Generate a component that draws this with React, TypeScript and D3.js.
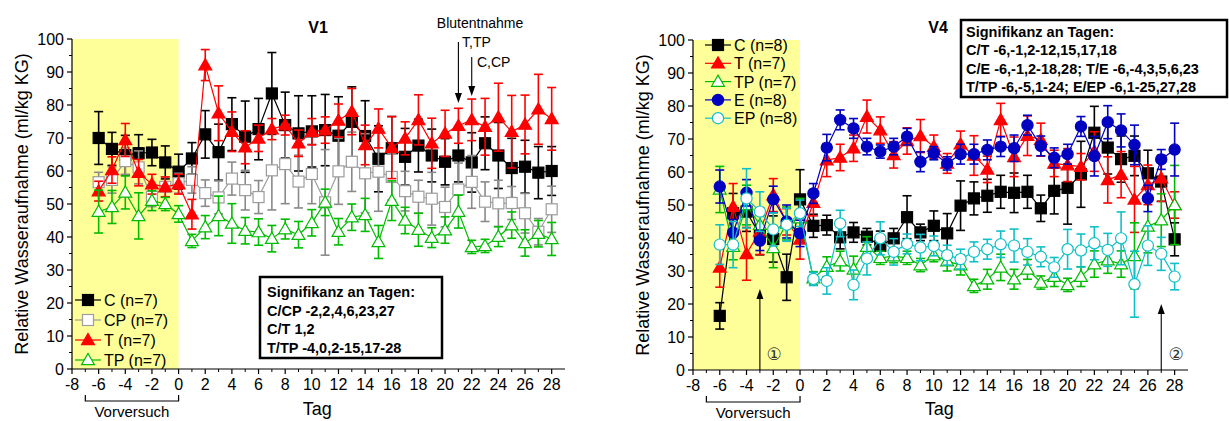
import React from 'react';
import * as d3 from 'd3';

// ---------- shared categories ----------
const days = [-6, -5, -4, -3, -2, -1, 0, 1, 2, 3, 4, 5, 6, 7, 8, 9, 10, 11, 12, 13, 14, 15, 16, 17, 18, 19, 20, 21, 22, 23, 24, 25, 26, 27, 28];
const xTickLabels = [-8, -6, -4, -2, 0, 2, 4, 6, 8, 10, 12, 14, 16, 18, 20, 22, 24, 26, 28];
const yTickLabels = [0, 10, 20, 30, 40, 50, 60, 70, 80, 90, 100];

// ---------- V1 ----------
const v1C = [70, 66.7, 64.8, 65.4, 65.6, 62.6, 59.8, 63.8, 71.1, 65.7, 74.2, 70.4, 72.7, 83.5, 73.9, 71.4, 72, 72.4, 70.7, 74.9, 70.6, 63.7, 66.9, 64.3, 67.7, 64.7, 62.8, 64.7, 62.6, 68.4, 64.7, 60.9, 61.3, 59.5, 60];
const v1CErr = [8, 5, 6, 5.6, 4, 5, 5.3, 4.8, 7.2, 8.5, 8, 10.8, 9.3, 12.4, 10, 11.4, 10.8, 10.8, 11.8, 10.6, 10.7, 10, 9.6, 8.6, 8, 8, 7, 8, 9, 8, 10, 9, 8, 7.9, 7.4];
const v1CP = [56.6, 57.3, 63, 61.1, 52.2, 55.2, 56.3, 57.3, 53.3, 52, 57.7, 54.2, 52.1, 60.2, 62.1, 56.8, 59.1, 50.5, 59.9, 62.8, 59.3, 59.8, 58.2, 53.9, 52.2, 51.6, 49.1, 54.4, 56.7, 50.7, 50.2, 50.3, 47.2, 41.6, 48.4];
const v1CPErr = [3, 4, 4, 5, 3, 3, 3, 4, 4, 5, 5, 6, 5, 12, 12, 8, 9, 16, 10, 9, 12, 12, 7, 6, 5, 8, 6, 8, 8, 6, 7, 5, 6, 4, 7];
const v1T = [53.9, 60.3, 69.4, 59.5, 56, 55.2, 56, 46.9, 92.1, 77.5, 71.9, 67.2, 69.9, 72.7, 73.9, 68.4, 71.9, 72.4, 75.3, 78, 67.9, 72.9, 67.1, 69.9, 75.5, 68.4, 71.4, 73.7, 75.5, 73.4, 76.3, 71.9, 74.1, 78.7, 75.8];
const v1TErr = [3, 4, 5, 4, 3, 3, 3, 4.5, 4.7, 8.3, 6, 5, 4, 3.2, 3, 4, 4, 4, 5, 7, 6, 5.9, 9.4, 5, 7.6, 7.6, 7, 5.3, 6.3, 8.6, 10.3, 11, 8.9, 10.6, 9.5];
const v1TP = [47.7, 49.1, 53.5, 46.4, 51, 50, 47, 38.8, 43, 46.4, 44.1, 41.9, 41.5, 39.5, 42.4, 40.7, 44.3, 50.5, 41.6, 46, 46.7, 38.5, 51, 45, 42.2, 39.8, 42.1, 47.7, 37, 37.3, 40.1, 43.6, 38.2, 41, 39.4];
const v1TPErr = [6.5, 5, 5, 7, 3, 2, 2.5, 2, 3.5, 6, 6, 4, 4, 4, 3, 4, 4, 4, 4, 4, 5, 5, 6, 4, 5, 3, 4, 5, 2, 2, 3, 4, 4, 4, 5];

// ---------- V4 ----------
const v4C = [16.4, 47.5, 48, 40.9, 39.7, 28.1, 51.7, 43.7, 43.9, 40.2, 41.7, 40.4, 37.6, 39.9, 46.3, 41.7, 43.7, 41.4, 49.8, 52, 52.8, 54, 53.7, 54, 49, 54.3, 55.2, 59.3, 71.9, 67.4, 63.9, 64.9, 59.6, 57.1, 39.6];
const v4CErr = [4, 6, 6, 6, 7, 7, 9, 3.5, 3, 3.5, 3, 2.5, 4.5, 3, 6.5, 2.5, 4.5, 6, 7.5, 5, 5, 5, 6, 5, 4, 7, 11, 10, 8, 8, 7, 6, 7, 6, 5];
const v4T = [31.1, 49.5, 35.2, 42, 53, 44.9, 39.6, 50.7, 63.6, 64.4, 67.2, 76.8, 72.7, 65.2, 69.4, 70.9, 67.7, 62.6, 68.4, 65, 60.8, 75.8, 64.6, 71, 69.8, 62.6, 62.1, 61.6, 66.2, 57.6, 59.2, 51.7, 56.1, 58.1, 50];
const v4TErr = [6, 7, 8, 7, 5, 4, 6, 4, 5, 4, 4, 5, 4, 4, 4, 5, 3.5, 3, 4, 6, 4, 5, 6, 6, 5, 4, 5, 4, 6, 7, 7, 10, 6, 7, 4];
const v4TP = [54.7, 37.4, 50, 44, 37, 44.4, 46, 27.8, 31.3, 33, 30.5, 37.4, 34, 34.5, 34, 31.8, 34.8, 33, 31.8, 25.5, 27.5, 31.1, 27.5, 30.5, 26.5, 28.3, 25.8, 28.3, 32.1, 33.3, 32.1, 34.6, 43.5, 45.4, 50];
const v4TPErr = [7, 4, 6, 5, 6, 5, 6, 2, 3, 3, 4, 3, 2, 2, 2, 2, 2, 3, 3, 2, 3, 4, 3, 3, 2, 3, 2, 3, 4, 4, 4, 10, 8, 8, 12];
const v4E = [55.6, 41.6, 53.7, 39.2, 51.7, 45, 41.4, 53.5, 67.4, 75.8, 73.2, 67.7, 66.2, 67.7, 70.7, 63.1, 65.7, 62.6, 65.4, 65.4, 66.7, 67.7, 67.2, 74.2, 67.9, 64.3, 65.4, 73.8, 64.8, 75.1, 72.6, 68.2, 52, 63.8, 66.8];
const v4EErr = [5, 4, 4, 3, 4, 5, 4, 3, 4, 3, 3, 2.5, 2, 2.5, 2.5, 3, 2, 2, 3, 3, 3, 3, 4, 3, 3, 3, 3, 3, 6, 5, 5, 6, 4, 3, 8];
const v4EP = [38, 38, 52, 48, 42.6, 44, 47.5, 27.6, 27, 44.4, 25.8, 33.8, 39.9, 35.8, 38.2, 37.1, 37.6, 34.8, 33.6, 35.8, 36.6, 38.1, 37.7, 35.8, 34.3, 31.1, 36.6, 36.2, 38.4, 36.4, 39.9, 26, 37.7, 35.2, 28.3];
const v4EPErr = [6, 7, 9, 6, 5, 5, 4, 2, 4, 4, 4.5, 5, 5, 4, 3, 4, 3, 3, 3, 3, 3, 4, 5, 4, 3, 3, 6, 5, 5, 5, 8, 10, 6, 5, 4];

type Shape = 'square' | 'triangle' | 'circle';
interface Series {
  label: string;
  values: number[];
  errors: number[];
  color: string;
  lineColor: string;
  errColor: string;
  shape: Shape;
  filled: boolean;
}

const FONT = "'Liberation Sans', Arial, Helvetica, sans-serif";
const triPath = d3.symbol().type(d3.symbolTriangle).size(72)() as string;

function Marker({ shape, filled, color, cx, cy }: { shape: Shape; filled: boolean; color: string; cx: number; cy: number }) {
  const fill = filled ? color : '#ffffff';
  if (shape === 'square') {
    return <rect x={cx - 5.5} y={cy - 5.5} width={11} height={11} fill={fill} stroke={color} strokeWidth={1.2} />;
  }
  if (shape === 'circle') {
    return <circle cx={cx} cy={cy} r={5.6} fill={fill} stroke={color} strokeWidth={1.2} />;
  }
  return <path d={triPath} transform={`translate(${cx},${cy + 1})`} fill={fill} stroke={color} strokeWidth={1.2} />;
}

interface PanelProps {
  x0: number;
  x1: number;
  yBottom: number;
  yTop: number;
  series: Series[];
  title: string;
  titleX: number;
  legendX: number;
  legendY: number;
  legendStep: number;
  labelX: number;
}

function Panel(p: PanelProps) {
  const x = d3.scaleLinear().domain([-8, 29]).range([p.x0, p.x1]);
  const y = d3.scaleLinear().domain([0, 100]).range([p.yBottom, p.yTop]);
  const minorX = x.ticks(37).filter((t) => !xTickLabels.includes(t) && t <= 28);
  const minorY = y.ticks(20).filter((t) => !yTickLabels.includes(t));
  const line = d3
    .line<number>()
    .x((_, i) => x(days[i]))
    .y((v) => y(v));
  const cap = 4.5;
  return (
    <g>
      {/* pre-test shading */}
      <rect x={x(-8)} y={y(100)} width={x(0) - x(-8)} height={y(0) - y(100)} fill="#ffff99" />
      {/* series */}
      {p.series.map((s) => (
        <g key={s.label}>
          {s.values.map((v, i) => {
            const cx = x(days[i]);
            const yt = y(v + s.errors[i]);
            const yb = y(v - s.errors[i]);
            return (
              <g key={i} stroke={s.errColor} strokeWidth={1.6}>
                <line x1={cx} x2={cx} y1={yt} y2={yb} />
                <line x1={cx - cap} x2={cx + cap} y1={yt} y2={yt} />
                <line x1={cx - cap} x2={cx + cap} y1={yb} y2={yb} />
              </g>
            );
          })}
          <path d={line(s.values) as string} fill="none" stroke={s.lineColor} strokeWidth={1.2} />
          {s.values.map((v, i) => (
            <Marker key={i} shape={s.shape} filled={s.filled} color={s.color} cx={x(days[i])} cy={y(v)} />
          ))}
        </g>
      ))}
      {/* axes */}
      <line x1={x(-8)} x2={x(-8)} y1={y(0)} y2={y(100)} stroke="#000" strokeWidth={1.2} />
      <line x1={x(-8)} x2={x(29)} y1={y(0)} y2={y(0)} stroke="#000" strokeWidth={1.2} />
      {xTickLabels.map((t) => (
        <g key={'xt' + t}>
          <line x1={x(t)} x2={x(t)} y1={y(0)} y2={y(0) + 5} stroke="#000" strokeWidth={1.2} />
          <text x={x(t)} y={y(0) + 21} textAnchor="middle" fontSize={16} fontFamily={FONT}>
            {t}
          </text>
        </g>
      ))}
      {minorX.map((t) => (
        <line key={'xm' + t} x1={x(t)} x2={x(t)} y1={y(0)} y2={y(0) + 3} stroke="#000" strokeWidth={1} />
      ))}
      {yTickLabels.map((t) => (
        <g key={'yt' + t}>
          <line x1={x(-8) - 5} x2={x(-8)} y1={y(t)} y2={y(t)} stroke="#000" strokeWidth={1.2} />
          <text x={x(-8) - 8} y={y(t) + 6} textAnchor="end" fontSize={16} fontFamily={FONT}>
            {t}
          </text>
        </g>
      ))}
      {minorY.map((t) => (
        <line key={'ym' + t} x1={x(-8) - 3} x2={x(-8)} y1={y(t)} y2={y(t)} stroke="#000" strokeWidth={1} />
      ))}
      {/* axis titles */}
      <text
        transform={`translate(${p.labelX},${(y(0) + y(100)) / 2}) rotate(-90)`}
        textAnchor="middle"
        fontSize={18}
        fontFamily={FONT}
      >
        Relative Wasseraufnahme (ml/kg KG)
      </text>
      <text x={x(10.4)} y={415} textAnchor="middle" fontSize={18} fontFamily={FONT}>
        Tag
      </text>
      <text x={p.titleX} y={33} textAnchor="middle" fontSize={16} fontWeight="bold" fontFamily={FONT}>
        {p.title}
      </text>
      {/* Vorversuch bracket */}
      <path
        d={`M${x(-7)},${y(0) + 26} V${y(0) + 32} H${x(0)} V${y(0) + 26}`}
        fill="none"
        stroke="#000"
        strokeWidth={1.2}
      />
      <text x={(x(-7) + x(0)) / 2} y={y(0) + 48} textAnchor="middle" fontSize={15} fontFamily={FONT}>
        Vorversuch
      </text>
      {/* legend */}
      {p.series.map((s, i) => {
        const ly = p.legendY + i * p.legendStep;
        return (
          <g key={'lg' + s.label}>
            <line x1={p.legendX - 13} x2={p.legendX + 13} y1={ly} y2={ly} stroke={s.lineColor} strokeWidth={1.2} />
            <Marker shape={s.shape} filled={s.filled} color={s.color} cx={p.legendX} cy={ly} />
            <text x={p.legendX + 16} y={ly + 6} fontSize={16} fontFamily={FONT}>
              {s.label}
            </text>
          </g>
        );
      })}
    </g>
  );
}

const gray = '#9c9c9c';
const green = '#00bb00';
const red = '#ff0000';
const blue = '#0000c0';
const cyan = '#10c0c8';

const v1Series: Series[] = [
  { label: 'C (n=7)', values: v1C, errors: v1CErr, color: '#000', lineColor: '#000', errColor: '#000', shape: 'square', filled: true },
  { label: 'CP (n=7)', values: v1CP, errors: v1CPErr, color: gray, lineColor: gray, errColor: '#8a8a8a', shape: 'square', filled: false },
  { label: 'T (n=7)', values: v1T, errors: v1TErr, color: red, lineColor: red, errColor: red, shape: 'triangle', filled: true },
  { label: 'TP (n=7)', values: v1TP, errors: v1TPErr, color: green, lineColor: green, errColor: green, shape: 'triangle', filled: false },
];

const v4Series: Series[] = [
  { label: 'C (n=8)', values: v4C, errors: v4CErr, color: '#000', lineColor: '#000', errColor: '#000', shape: 'square', filled: true },
  { label: 'T (n=7)', values: v4T, errors: v4TErr, color: red, lineColor: red, errColor: red, shape: 'triangle', filled: true },
  { label: 'TP (n=7)', values: v4TP, errors: v4TPErr, color: green, lineColor: green, errColor: green, shape: 'triangle', filled: false },
  { label: 'E (n=8)', values: v4E, errors: v4EErr, color: blue, lineColor: blue, errColor: blue, shape: 'circle', filled: true },
  { label: 'EP (n=8)', values: v4EP, errors: v4EPErr, color: cyan, lineColor: cyan, errColor: cyan, shape: 'circle', filled: false },
];

const v1Signif = ['Signifikanz an Tagen:', 'C/CP -2,2,4,6,23,27', 'C/T 1,2', 'T/TP -4,0,2-15,17-28'];
const v4Signif = [
  'Signifikanz an Tagen:',
  'C/T -6,-1,2-12,15,17,18',
  'C/E -6,-1,2-18,28; T/E -6,-4,3,5,6,23',
  'T/TP -6,-5,1-24; E/EP -6,1-25,27,28',
];

function Arrow({ x, yFrom, yTo }: { x: number; yFrom: number; yTo: number }) {
  const dir = yTo > yFrom ? 1 : -1;
  return (
    <g>
      <line x1={x} x2={x} y1={yFrom} y2={yTo - dir * 8} stroke="#000" strokeWidth={1.1} />
      <path d={`M${x},${yTo} L${x - 3.5},${yTo - dir * 10} L${x + 3.5},${yTo - dir * 10} Z`} fill="#000" />
    </g>
  );
}

export default function App() {
  const xL = d3.scaleLinear().domain([-8, 29]).range([72, 565]);
  const xR = d3.scaleLinear().domain([-8, 29]).range([693, 1188]);
  return (
    <svg
      width={1229}
      height={421}
      viewBox="0 0 1229 421"
      style={{ position: 'absolute', left: 0, top: 0, background: '#fff' }}
    >
      <rect x={0} y={0} width={1229} height={421} fill="#fff" />
      <Panel
        x0={72}
        x1={565}
        yBottom={369}
        yTop={39}
        series={v1Series}
        title="V1"
        titleX={318}
        legendX={88}
        legendY={300}
        legendStep={20}
        labelX={28}
      />
      <Panel
        x0={693}
        x1={1188}
        yBottom={370}
        yTop={40}
        series={v4Series}
        title="V4"
        titleX={938}
        legendX={718}
        legendY={45}
        legendStep={18.3}
        labelX={649}
      />
      {/* V1 significance box */}
      <rect x={260} y={277} width={182} height={81} fill="#fff" stroke="#000" strokeWidth={2.5} />
      {v1Signif.map((t, i) => (
        <text key={t} x={267} y={297 + i * 18.5} fontSize={14.5} fontWeight="bold" fontFamily={FONT}>
          {t}
        </text>
      ))}
      {/* V4 significance box */}
      <rect x={961} y={20} width={266} height={77} fill="#fff" stroke="#000" strokeWidth={2.5} />
      {v4Signif.map((t, i) => (
        <text key={t} x={966} y={37 + i * 18.3} fontSize={14.5} fontWeight="bold" fontFamily={FONT}>
          {t}
        </text>
      ))}
      {/* Blutentnahme annotation */}
      <text x={480} y={28} textAnchor="middle" fontSize={14} fontFamily={FONT}>
        Blutentnahme
      </text>
      <text x={462} y={47} fontSize={14} fontFamily={FONT}>
        T,TP
      </text>
      <text x={477} y={67} fontSize={14} fontFamily={FONT}>
        C,CP
      </text>
      <Arrow x={xL(21)} yFrom={42} yTo={103} />
      <Arrow x={xL(22)} yFrom={57} yTo={96} />
      {/* V4 markers 1 and 2 */}
      <Arrow x={xR(-3)} yFrom={370} yTo={289} />
      <Arrow x={xR(27)} yFrom={370} yTo={304} />
      <text x={774} y={360} textAnchor="middle" fontSize={17} fill="#333" fontFamily="'DejaVu Sans', 'Noto Sans CJK JP', sans-serif">
        ①
      </text>
      <text x={1176} y={360} textAnchor="middle" fontSize={17} fill="#333" fontFamily="'DejaVu Sans', 'Noto Sans CJK JP', sans-serif">
        ②
      </text>
    </svg>
  );
}
